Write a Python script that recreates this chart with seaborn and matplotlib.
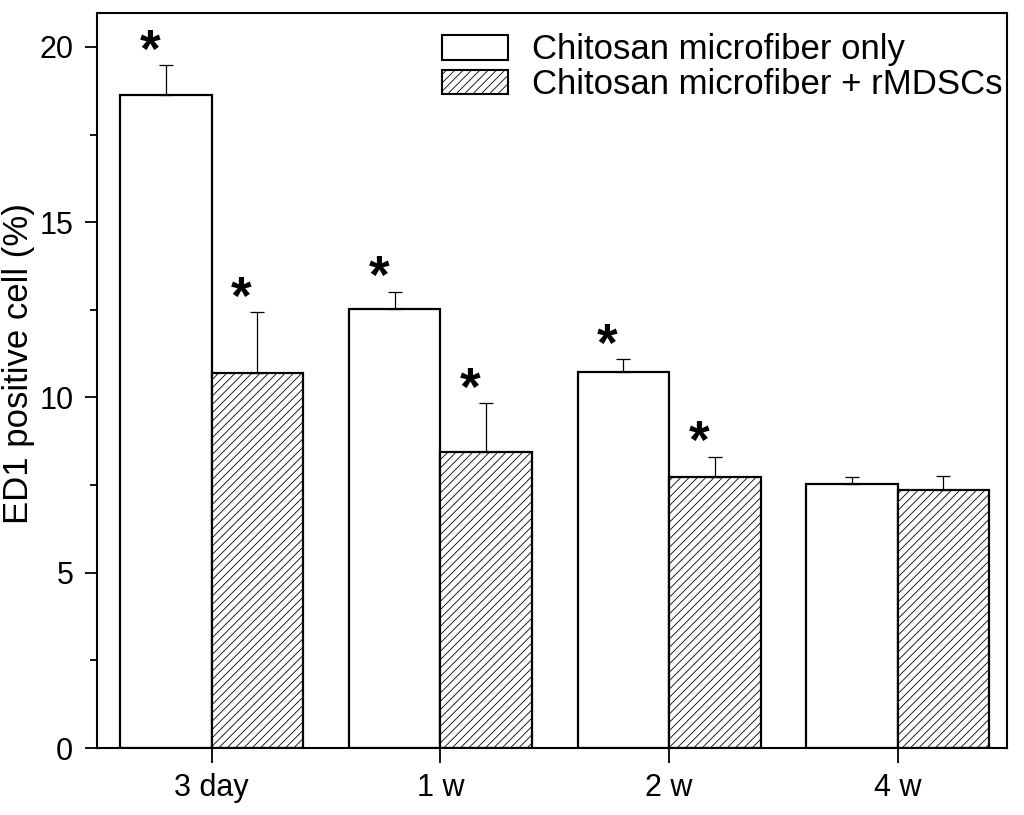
import numpy as np
import pandas as pd
import matplotlib
matplotlib.use('Agg')
import matplotlib.pyplot as plt
from matplotlib.ticker import MultipleLocator
from matplotlib.patches import Patch
import seaborn as sns

# values
times = ['3 day', '1 w', '2 w', '4 w']
groups = ['Chitosan microfiber only', 'Chitosan microfiber + rMDSCs']
only_mean = [18.63, 12.52, 10.72, 7.53]
only_sd = [0.86, 0.50, 0.38, 0.19]
cells_mean = [10.70, 8.45, 7.72, 7.37]
cells_sd = [1.74, 1.40, 0.59, 0.40]
only_star = [True, True, True, False]
cells_star = [True, True, True, False]

df = pd.DataFrame({
    'time': times * 2,
    'group': [groups[0]] * 4 + [groups[1]] * 4,
    'value': only_mean + cells_mean,
})

sns.set_style('ticks')
plt.rcParams['font.family'] = ['Liberation Sans', 'DejaVu Sans']
plt.rcParams['hatch.linewidth'] = 0.6
plt.rcParams['axes.linewidth'] = 1.5
for key in ['text.color', 'axes.labelcolor', 'xtick.color', 'ytick.color', 'axes.edgecolor']:
    plt.rcParams[key] = 'black'

fig = plt.figure(figsize=(10.24, 8.15), dpi=100)
ax = fig.add_axes([0.0947, 0.0822, 0.8883, 0.902])

sns.barplot(data=df, x='time', y='value', hue='group', order=times,
            hue_order=groups, palette=['white', 'white'], errorbar=None,
            width=0.8, edgecolor='black', linewidth=1.6, legend=False, ax=ax)

hatches = ['', '////']
sds = [only_sd, cells_sd]
stars = [only_star, cells_star]
bar_conts = list(ax.containers)
for k, cont in enumerate(bar_conts):
    xs, tops = [], []
    for bar in cont:
        bar.set_hatch(hatches[k])
        xs.append(bar.get_x() + bar.get_width() / 2)
        tops.append(bar.get_height())
    ax.errorbar(xs, tops, yerr=[np.zeros(len(xs)), sds[k]], fmt='none',
                ecolor='black', elinewidth=0.9, capsize=5, capthick=0.9)
    for x, t, s, st in zip(xs, tops, sds[k], stars[k]):
        if st:
            ax.text(x - 0.07, t + s - 0.05, '*', ha='center', va='baseline',
                    fontsize=38, fontweight='bold')

ax.set_xlim(-0.502, 3.476)
ax.set_ylim(0, 20.97)
ax.yaxis.set_major_locator(MultipleLocator(5))
ax.yaxis.set_minor_locator(MultipleLocator(2.5))
ax.tick_params(axis='y', which='major', length=9, width=1.3, labelsize=22, direction='out', pad=8)
ax.tick_params(axis='y', which='minor', length=5, width=1.3, direction='out')
ax.tick_params(axis='x', length=11, width=1.3, labelsize=22, direction='out', pad=7)
for s in ax.spines.values():
    s.set_visible(True)
    s.set_linewidth(1.5)
ax.set_xlabel('')
ax.set_ylabel('ED1 positive cell (%)', fontsize=25)
ax.yaxis.set_label_coords(-0.068, 0.523)

handles = [Patch(facecolor='white', edgecolor='black', linewidth=1.5, hatch=h) for h in hatches]
ax.legend(handles, groups, loc='upper right', bbox_to_anchor=(1.011, 0.991),
          frameon=False, fontsize=25, handlelength=1.9, handleheight=0.72,
          handletextpad=0.7, labelspacing=0.05, borderaxespad=0.0)

fig.savefig('out.png', dpi=100)
